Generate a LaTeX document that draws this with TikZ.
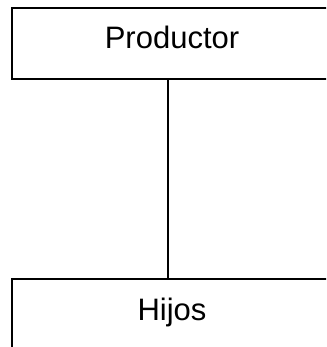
\documentclass[tikz,border=0pt]{standalone}
\usepackage{fontspec}
\setmainfont{Liberation Sans}
\usetikzlibrary{positioning}

\tikzset{
  caja/.style={draw, line width=1.5pt, minimum width=320pt, minimum height=71pt,
    text height=22pt, text depth=11pt, inner sep=0pt, font=\fontsize{31pt}{31pt}\selectfont}
}

\begin{document}
\begin{tikzpicture}[x=1pt, y=-1pt]
\useasboundingbox (0,0) rectangle (326,347);
\clip (0,0) rectangle (326,347);
\node[caja] (prod) at (172,43.5) {Productor};
\node[caja] (hijos) at (172,314.5) {Hijos};

\draw[line width=1.5pt]
	([xshift=-4pt]prod.south) -- ([xshift=-4pt]hijos.north)
;
\end{tikzpicture}
\end{document}
